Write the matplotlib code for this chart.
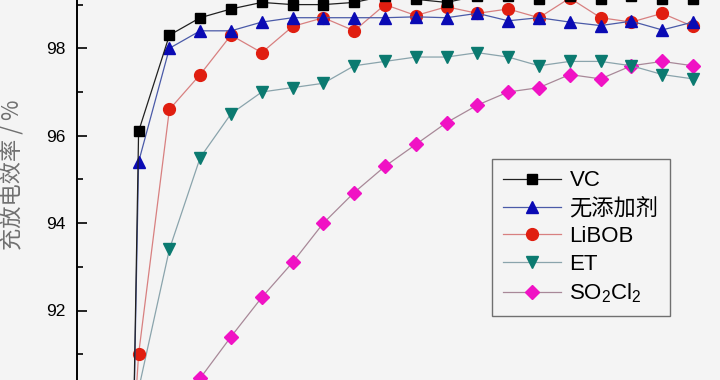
import numpy as np
import matplotlib
matplotlib.use("Agg")
import matplotlib.pyplot as plt

plt.rcParams['font.family'] = ['Liberation Sans', 'Noto Sans CJK SC', 'DejaVu Sans']
plt.rcParams['mathtext.default'] = 'regular'

# cycle number and charge/discharge efficiency (%)
cycles = np.arange(1, 21)
vc = [55.0, 96.1, 98.3, 98.7, 98.9, 99.05, 99.0, 99.0, 99.05, 99.2,
      99.12, 99.05, 99.2, 99.2, 99.12, 99.2, 99.12, 99.2, 99.12, 99.12]
none = [58.0, 95.4, 98.0, 98.4, 98.4, 98.6, 98.7, 98.7, 98.7, 98.7,
        98.72, 98.7, 98.8, 98.63, 98.7, 98.6, 98.52, 98.62, 98.42, 98.6]
libob = [80.0, 91.0, 96.6, 97.4, 98.3, 97.9, 98.5, 98.7, 98.4, 99.0,
         98.75, 98.95, 98.8, 98.9, 98.7, 99.15, 98.7, 98.6, 98.8, 98.5]
et = [75.0, 90.2, 93.4, 95.5, 96.5, 97.0, 97.1, 97.2, 97.6, 97.7,
      97.8, 97.8, 97.9, 97.8, 97.6, 97.7, 97.7, 97.6, 97.4, 97.3]
so2cl2 = [80.0, 88.5, 89.6, 90.45, 91.4, 92.3, 93.1, 94.0, 94.7, 95.3,
          95.8, 96.3, 96.7, 97.0, 97.1, 97.4, 97.3, 97.6, 97.7, 97.6]

labels = ["VC", "无添加剂", "LiBOB", "ET", "SO$_2$Cl$_2$"]

bg = '#f4f4f4'
fig = plt.figure(figsize=(7.2, 3.8), dpi=100, facecolor=bg)
# the picture is a crop: axes run past the figure edges on top, right and bottom
ax = fig.add_axes([77 / 720, -17.9 / 380, 646.8 / 720, 437 / 380], facecolor=bg)

l1, = ax.plot(cycles, vc, color='#202020', lw=0.9, marker='s', ms=7.5,
              mfc='black', mec='black', zorder=5)
l2, = ax.plot(cycles, none, color='#4a5aa8', lw=0.9, marker='^', ms=9,
              mfc='#0a0ab4', mec='#0a0ab4', zorder=4)
l3, = ax.plot(cycles, libob, color='#d88080', lw=0.9, marker='o', ms=8.5,
              mfc='#e01e10', mec='#e01e10', zorder=3)
l4, = ax.plot(cycles, et, color='#8aa4ac', lw=0.9, marker='v', ms=9,
              mfc='#0b7a70', mec='#0b7a70', zorder=2)
l5, = ax.plot(cycles, so2cl2, color='#a88898', lw=0.9, marker='D', ms=7.5,
              mfc='#f012c4', mec='#f012c4', zorder=1)

ax.set_xlim(0, 21)
ax.set_ylim(90, 100)
ax.set_yticks([92, 94, 96, 98])
ax.set_yticks([91, 93, 95, 97, 99], minor=True)
ax.tick_params(axis='y', which='major', direction='in', length=7, width=1.2,
               labelsize=12.5, pad=8)
ax.tick_params(axis='y', which='minor', direction='in', length=4, width=1.2)
ax.tick_params(axis='x', direction='in', labelbottom=False)
for s in ax.spines.values():
    s.set_linewidth(1.4)

ax.set_ylabel("充放电效率 / %", fontsize=16, color='#707070',
              family=['Noto Sans CJK SC', 'DejaVu Sans'])
ax.yaxis.set_label_coords(-(77 - 24) / 646.8, 0.51)

leg = ax.legend([l1, l2, l3, l4, l5], labels, loc='upper left',
                bbox_to_anchor=((491.7 - 77) / 646.8, 1 - (159.3 + 39.1) / 437),
                borderaxespad=0,
                fontsize=16, frameon=True, fancybox=False, edgecolor='#707070',
                facecolor=bg, framealpha=1, handlelength=2.6, handletextpad=0.4,
                labelspacing=0.3, borderpad=0.5)
leg.get_frame().set_linewidth(1.0)

fig.savefig("out.png", dpi=100, facecolor=bg)
